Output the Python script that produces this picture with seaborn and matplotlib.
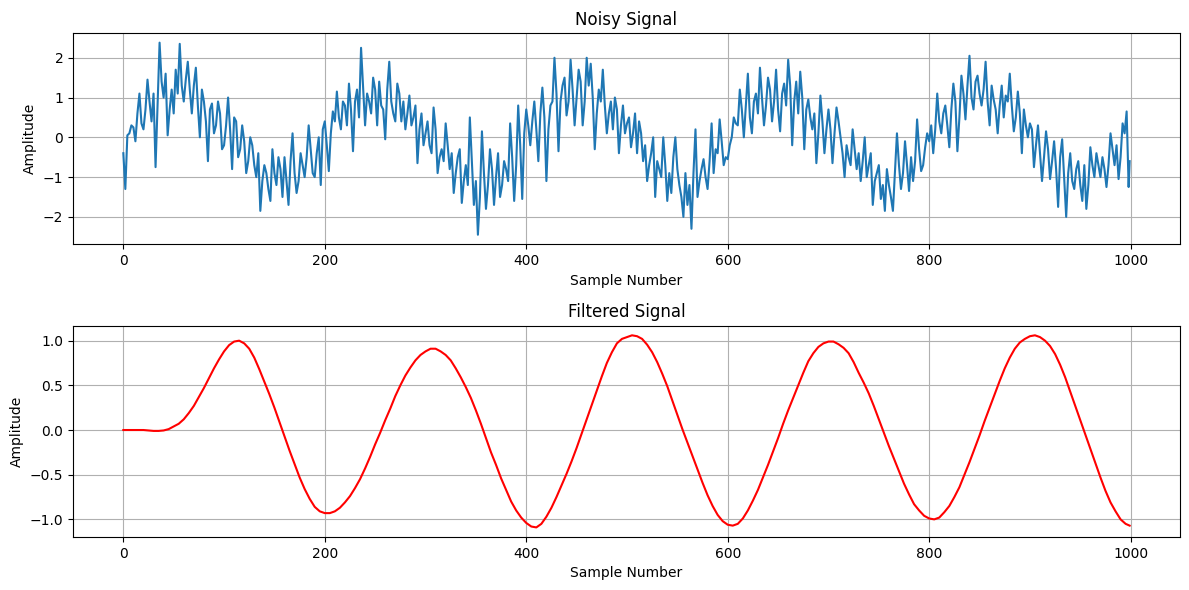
import matplotlib
matplotlib.use("Agg")
import matplotlib.pyplot as plt
import seaborn as sns

# ---- Noisy signal (every 2 samples) ----
noisy_x = list(range(0, 1000, 2)) + [999]
noisy_c0 = [-0.40, -1.30, 0.05, 0.10, 0.30, 0.25, -0.10, 0.60, 1.10, 0.35,
            0.20, 0.70, 1.45, 0.90, 0.40, 1.10, -0.75, 0.80, 2.38, 1.40,
            1.00, 1.60, 0.05, 0.70, 1.20, 0.60, 1.70, 1.10, 2.35, 1.30,
            0.90, 1.45, 1.90, 1.20, 0.60, 1.30, 1.75, 0.80, 0.00, 1.20,
            0.90, 0.40, -0.60, 0.70, 0.85, 0.10, 0.30, 0.90, 0.60, -0.30]
noisy_c1 = [-0.20, 0.30, 1.00, 0.20, -0.80, 0.50, 0.40, -0.50, -0.30, 0.30,
            -0.10, -0.90, -0.60, 0.00, -0.20, -0.70, -1.00, -0.40, -1.85, -1.10,
            -0.70, -0.90, -1.30, -1.60, -0.30, -0.90, -1.20, -0.50, -0.80, -1.50,
            -0.50, -1.10, -1.70, -0.60, 0.10, -0.90, -1.40, -1.10, -0.40, -0.70,
            -1.00, -0.50, 0.30, -0.30, -0.90, -1.00, -0.40, 0.00, -1.20, 0.20]
noisy_c2 = [0.40, -0.20, -0.85, 0.10, 0.65, 0.40, 1.15, 0.50, 0.20, 0.90,
            0.80, 0.30, 1.35, 0.70, -0.35, 0.90, 1.20, 0.50, 2.25, 1.30,
            0.30, 1.10, 0.90, 0.60, 1.50, 1.20, 0.30, 1.40, 0.80, 0.70,
            -0.05, 1.20, 1.90, 0.90, 0.60, 0.40, 1.35, 1.10, 0.40, 0.90,
            0.20, 0.60, 1.05, 0.30, 0.50, 0.80, -0.65, 0.20, 0.60, -0.20]
noisy_c3 = [0.10, 0.40, -0.20, -0.40, 0.75, 0.20, -0.90, -0.50, -0.30, -0.60,
            0.35, -0.20, -0.80, -0.40, -1.40, -0.90, -0.50, -0.30, -1.65, -1.10,
            -0.70, -1.20, 0.50, -0.60, -1.70, -1.10, -2.45, -1.50, 0.15, -0.90,
            -1.80, -1.20, -0.30, -0.80, -1.70, -1.00, -0.40, -1.50, -1.20, -0.60,
            -0.80, -1.10, 0.35, -0.50, -1.60, -0.70, 0.80, -0.20, -1.55, 0.10]
noisy_c4 = [0.70, 0.30, -0.20, 0.40, 0.90, 0.20, -0.60, 0.60, 1.25, 0.50,
            -1.10, 0.20, 0.80, 0.90, 2.00, 1.10, -0.35, 0.90, 1.30, 1.50,
            0.55, 0.90, 1.95, 1.20, 0.30, 1.00, 1.70, 1.40, 0.30, 0.90,
            2.00, 1.30, 1.85, 1.00, -0.30, 0.60, 1.20, 0.90, 1.70, 0.80,
            0.10, 0.60, 0.90, 0.20, 1.00, 0.70, -0.40, 0.30, 0.80, 0.10]
noisy_c5 = [0.35, 0.50, -0.25, 0.10, 0.60, -0.40, 0.40, 0.10, -0.60, -0.20,
            -1.10, -0.70, -0.40, 0.00, -1.50, -0.60, -0.80, -1.00, 0.00, -0.70,
            -1.60, -0.90, -1.40, -0.50, 0.00, -0.80, -1.20, -1.50, -2.00, -0.90,
            -1.70, -1.20, -2.30, -0.90, 0.20, -1.50, -1.10, -0.80, -0.55, -1.00,
            -1.30, -0.60, 0.35, -0.90, -0.30, -0.40, 0.45, -0.10, -0.70, -0.50]
noisy_c6 = [-0.55, -0.20, 0.00, 0.50, 0.35, 0.30, 1.20, 0.70, 0.00, 0.80,
            1.60, 0.50, 0.10, 0.90, 1.10, 0.60, 1.75, 1.00, 0.30, 0.80,
            1.50, 1.20, 0.40, 0.90, 1.70, 0.70, 0.15, 1.10, 1.35, 0.80,
            1.95, 1.30, -0.20, 0.90, 1.40, 0.60, 1.65, 1.00, -0.30, 0.70,
            0.95, 0.50, 0.20, 0.60, -0.65, 0.10, 1.05, 0.40, -0.40, 0.20]
noisy_c7 = [0.70, 0.20, -0.65, 0.10, 0.75, 0.40, 0.00, -0.40, -1.00, -0.20,
            -0.50, -0.70, 0.20, -0.30, -0.80, -0.40, -1.10, -0.60, 0.00, -1.00,
            -0.70, -0.40, -1.70, -1.10, -0.90, -0.70, -1.55, -1.20, -1.85, -0.80,
            -1.20, -1.50, -1.85, -0.90, 0.10, -0.70, -1.30, -0.90, -0.10, -0.70,
            -1.35, -0.50, -1.10, -0.60, 0.45, -0.30, -0.85, -0.70, -0.25, 0.10]
noisy_c8 = [-0.10, 0.30, -0.40, 0.20, 1.10, 0.40, 0.10, 0.60, 0.80, 0.30,
            -0.25, 0.70, 1.35, 0.90, -0.35, 0.50, 1.55, 1.10, 0.45, 1.30,
            2.05, 1.00, 0.70, 1.40, 1.55, 1.10, 0.80, 1.20, 1.90, 0.90,
            0.30, 1.30, 0.95, 0.70, 0.10, 0.80, 1.30, 0.50, 1.05, 0.90,
            1.60, 0.80, 0.15, 0.50, 1.15, 0.60, -0.40, 0.70, 0.30, 0.00]
noisy_c9 = [0.35, 0.20, -0.75, -0.20, 0.30, -0.40, -1.10, -0.50, 0.15, -0.30,
            -1.05, -0.60, -0.10, -0.80, -1.75, -0.50, -0.05, -1.00, -2.00, -0.90,
            -0.40, -1.10, -1.30, -0.80, -0.60, -1.20, -1.60, -0.70, -1.80, -1.20,
            -0.25, -0.70, -1.00, -0.40, -0.70, -1.00, -0.50, -0.80, -1.25, -0.70,
            0.10, -0.30, -0.70, -0.20, -1.05, -0.50, 0.35, 0.10, 0.65, -1.25,
            -0.60]
noisy_y = (noisy_c0 + noisy_c1 + noisy_c2 + noisy_c3 + noisy_c4
           + noisy_c5 + noisy_c6 + noisy_c7 + noisy_c8 + noisy_c9)

# ---- Filtered signal (every 5 samples) ----
filt_x = list(range(0, 1000, 5)) + [999]
filt_y = [0.00, 0.00, 0.00, 0.00, 0.00, -0.005, -0.01, -0.01, -0.005, 0.01,
          0.04, 0.07, 0.12, 0.19, 0.27, 0.37, 0.47, 0.58, 0.69, 0.79,
          0.88, 0.95, 0.99, 1.00, 0.97, 0.91, 0.81, 0.68, 0.54, 0.40,
          0.25, 0.09, -0.07, -0.23, -0.38, -0.53, -0.66, -0.77, -0.86, -0.91,
          -0.93, -0.93, -0.91, -0.87, -0.81, -0.74, -0.65, -0.55, -0.43, -0.30,
          -0.16, -0.03, 0.11, 0.24, 0.38, 0.50, 0.61, 0.70, 0.78, 0.84,
          0.88, 0.91, 0.91, 0.88, 0.84, 0.78, 0.69, 0.59, 0.48, 0.36,
          0.22, 0.07, -0.09, -0.25, -0.39, -0.54, -0.67, -0.80, -0.90, -0.98,
          -1.04, -1.08, -1.09, -1.05, -0.97, -0.87, -0.75, -0.62, -0.49, -0.35,
          -0.20, -0.04, 0.12, 0.28, 0.44, 0.60, 0.75, 0.87, 0.97, 1.02,
          1.04, 1.06, 1.05, 1.02, 0.955, 0.87, 0.76, 0.63, 0.49, 0.33,
          0.17, 0.01, -0.14, -0.29, -0.44, -0.59, -0.73, -0.85, -0.95, -1.02,
          -1.06, -1.07, -1.05, -0.99, -0.90, -0.79, -0.67, -0.53, -0.39, -0.24,
          -0.09, 0.07, 0.22, 0.36, 0.50, 0.64, 0.77, 0.86, 0.93, 0.97,
          0.99, 0.99, 0.96, 0.92, 0.86, 0.76, 0.64, 0.53, 0.41, 0.27,
          0.12, -0.03, -0.18, -0.32, -0.46, -0.60, -0.72, -0.83, -0.90, -0.96,
          -0.99, -1.00, -0.98, -0.92, -0.85, -0.75, -0.64, -0.50, -0.36, -0.21,
          -0.06, 0.10, 0.25, 0.40, 0.55, 0.69, 0.81, 0.91, 0.98, 1.02,
          1.05, 1.06, 1.04, 1.00, 0.94, 0.85, 0.73, 0.59, 0.43, 0.27,
          0.11, -0.05, -0.21, -0.37, -0.53, -0.68, -0.81, -0.91, -1.00, -1.05,
          -1.07]

fig, axes = plt.subplots(2, 1, figsize=(11.89, 5.9), dpi=100)
fig.subplots_adjust(left=0.0614, right=0.9924, top=0.944, bottom=0.0898, hspace=0.385)

ax = axes[0]
sns.lineplot(x=noisy_x, y=noisy_y, ax=ax, color="#1f77b4", linewidth=1.5)
ax.set_title("Noisy Signal")
ax.set_xlabel("Sample Number")
ax.set_ylabel("Amplitude")
ax.grid(True)

ax = axes[1]
sns.lineplot(x=filt_x, y=filt_y, ax=ax, color="red", linewidth=1.5)
ax.set_title("Filtered Signal")
ax.set_xlabel("Sample Number")
ax.set_ylabel("Amplitude")
ax.grid(True)

fig.savefig("out.png", dpi=100)
